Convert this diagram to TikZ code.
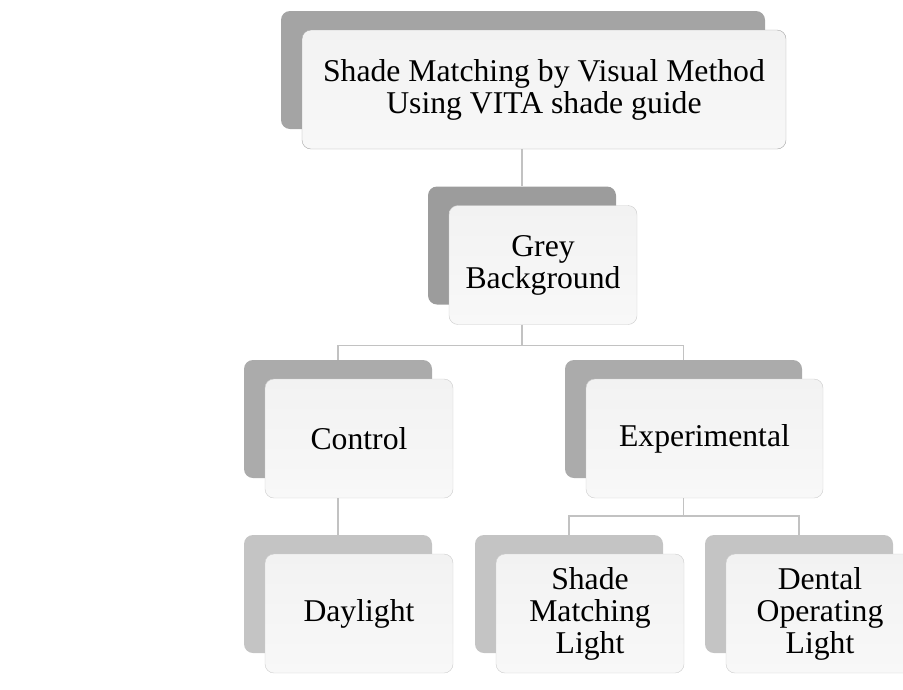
\documentclass[tikz,border=0pt]{standalone}
\usepackage{fontspec}
\setmainfont{Liberation Serif}
\definecolor{backA}{HTML}{A4A4A4}
\definecolor{backB}{HTML}{9C9C9C}
\definecolor{backC}{HTML}{ABABAB}
\definecolor{backD}{HTML}{C4C4C4}
\definecolor{frontTop}{HTML}{F2F2F2}
\definecolor{frontBot}{HTML}{F8F8F8}
\definecolor{linkgray}{HTML}{C2C2C2}

\tikzset{back/.style  = {rounded corners=9pt, fill=#1, inner sep=0pt, minimum height=118pt},
         back/.default=backA,
         front/.style = {rounded corners=9pt, draw=#1, top color=frontTop, bottom color=frontBot,
                         inner sep=0pt, minimum height=119pt, align=center,
                         font=\fontsize{31.7}{32}\selectfont},
         front/.default=gray!40,
         link/.style  = {draw=linkgray, line width=1.5pt}
        }

\begin{document}
\begin{tikzpicture}[x=1pt,y=-1pt]
  \tikzstyle{off}=[shift={(21,19.5)}]
  \useasboundingbox (0,0) rectangle (903,689);
  \node[back=backA, minimum width=484pt] (topb) at (523,70) {};
  \node[front=gray!70, minimum width=484pt] (topf) at ([off]topb.center)
       {Shade Matching by Visual Method\\Using VITA shade guide};
  \node[back=backB, minimum width=188pt] (greyb) at (522,245.5) {};
  \node[front, minimum width=188pt] (greyf) at ([off]greyb.center) {Grey\\Background};
  \node[back=backC, minimum width=188pt] (ctrlb) at (338,419) {};
  \node[front, minimum width=188pt] (ctrlf) at ([off]ctrlb.center) {Control};
  \node[back=backC, minimum width=237pt] (expb) at (683.5,419) {};
  \node[front, minimum width=237pt] (expf) at ([off]expb.center) {Experimental};
  \node[back=backD, minimum width=188pt] (dayb) at (338,594) {};
  \node[front, minimum width=188pt] (dayf) at ([off]dayb.center) {Daylight};
  \node[back=backD, minimum width=188pt] (smlb) at (569,594) {};
  \node[front, minimum width=188pt] (smlf) at ([off]smlb.center) {Shade\\Matching\\Light};
  \node[back=backD, minimum width=188pt] (dolb) at (799,594) {};
  \node[front, minimum width=188pt] (dolf) at ([off]dolb.center) {Dental\\Operating\\Light};

  \draw[link] (topf.south -| greyb.north) -- (greyb.north);
  \draw[link] (greyf.south -| greyb.south) -- ++(0,21) coordinate (gjoin);
  \draw[link] (ctrlb.north) |- (gjoin) -| (expb.north);
  \draw[link] (ctrlf.south -| ctrlb.south) -- (dayb.north);
  \draw[link] (expf.south -| expb.south) -- ++(0,18) coordinate (ejoin);
  \draw[link] (smlb.north) |- (ejoin) -| (dolb.north);
\end{tikzpicture}
\end{document}
